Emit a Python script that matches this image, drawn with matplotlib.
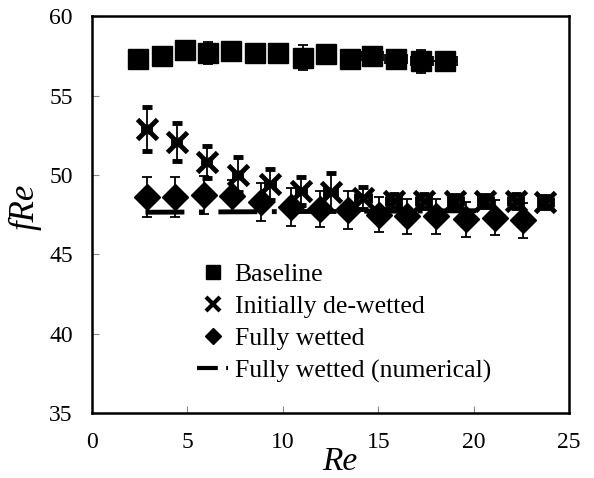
import matplotlib
matplotlib.use('Agg')
import matplotlib.pyplot as plt
from matplotlib.lines import Line2D

# baseline (squares)
base_re = [2.43, 3.66, 4.85, 6.09, 7.30, 8.56, 9.75, 11.04, 12.27, 13.51, 14.69, 15.95, 17.26, 18.49]
base_fre = [57.3, 57.5, 57.9, 57.7, 57.8, 57.7, 57.7, 57.4, 57.6, 57.3, 57.5, 57.3, 57.15, 57.15]
base_yerr = [0.2, 0.2, 0.2, 0.7, 0.3, 0.2, 0.2, 0.8, 0.3, 0.3, 0.2, 0.2, 0.75, 0.2]
base_xerr = [0.3, 0.3, 0.3, 0.3, 0.3, 0.3, 0.3, 0.4, 0.4, 0.4, 0.58, 0.58, 0.56, 0.63]

# initially de-wetted (crosses)
dew_re = [2.86, 4.43, 6.0, 7.63, 9.32, 10.94, 12.5, 14.2, 15.81, 17.38, 19.04, 20.61, 22.2, 23.75]
dew_fre = [52.9, 52.1, 50.8, 50.0, 49.4, 49.0, 48.9, 48.55, 48.35, 48.35, 48.35, 48.35, 48.35, 48.3]
dew_yerr = [1.4, 1.2, 1.0, 1.1, 0.95, 0.9, 1.2, 0.7, 0.45, 0.45, 0.4, 0.4, 0.45, 0.4]
dew_xerr = [0.2, 0.2, 0.2, 0.2, 0.2, 0.2, 0.3, 0.35, 0.35, 0.35, 0.35, 0.35, 0.35, 0.35]

# fully wetted (diamonds)
wet_re = [2.9, 4.36, 5.88, 7.31, 8.83, 10.45, 11.94, 13.42, 15.04, 16.51, 18.05, 19.62, 21.1, 22.58]
wet_fre = [48.6, 48.6, 48.75, 48.65, 48.3, 48.0, 47.85, 47.8, 47.5, 47.4, 47.4, 47.2, 47.3, 47.15]
wet_yerr = [1.25, 1.25, 1.2, 1.05, 1.2, 1.2, 1.15, 1.2, 1.1, 1.1, 1.1, 1.1, 1.1, 1.1]

# fully wetted numerical
num_re = [2.8, 21.0]
num_fre = [47.65, 47.75]

plt.rcParams['font.family'] = ['Liberation Serif', 'DejaVu Serif']

fig = plt.figure(figsize=(5.94, 4.78), dpi=100)
ax = fig.add_axes([0.155, 0.136, 0.803, 0.83])

ek = dict(ecolor='black', elinewidth=1.3, capsize=3.8, capthick=1.3, linestyle='none')
ax.plot(num_re, num_fre, color='black', linewidth=3.5, dashes=[8, 3, 1, 3], zorder=1)
ax.errorbar(base_re, base_fre, yerr=base_yerr, xerr=base_xerr, marker='s', markersize=14,
            color='black', **ek)
ax.errorbar(dew_re, dew_fre, yerr=dew_yerr, xerr=dew_xerr, marker='x', markersize=15,
            markeredgewidth=3.5, color='black', **ek)
ax.errorbar(wet_re, wet_fre, yerr=wet_yerr, marker='D', markersize=13,
            color='black', **ek)

ax.set_xlim(0, 25)
ax.set_ylim(35, 60)
ax.set_xticks([0, 5, 10, 15, 20, 25])
ax.set_yticks([35, 40, 45, 50, 55, 60])
ax.tick_params(direction='in', length=5, width=0.8, color='#888888', labelsize=17, pad=14)
for s in ax.spines.values():
    s.set_linewidth(1.8)

ax.set_xlabel('Re', fontsize=24, style='italic')
ax.set_ylabel('fRe', fontsize=25, style='italic')
ax.xaxis.set_label_coords(0.52, -0.085)
ax.yaxis.set_label_coords(-0.105, 0.52)

handles = [
    Line2D([], [], marker='s', color='black', linestyle='none', markersize=10),
    Line2D([], [], marker='x', color='black', linestyle='none', markersize=10, markeredgewidth=3),
    Line2D([], [], marker='D', color='black', linestyle='none', markersize=8.5),
    Line2D([], [], color='black', linewidth=3, dashes=[5, 2, 1, 3]),
]
labels = ['Baseline', 'Initially de-wetted', 'Fully wetted', 'Fully wetted (numerical)']
ax.legend(handles, labels, loc='upper left', bbox_to_anchor=(0.194, 0.41), frameon=False,
          fontsize=18.5, handlelength=1.2, handletextpad=0.25, labelspacing=0.35,
          borderpad=0)

fig.savefig('out.png', dpi=100)
